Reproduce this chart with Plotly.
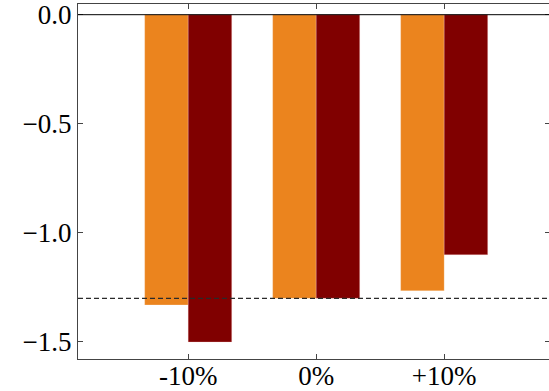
import plotly.graph_objects as go

# Data
categories = ["-10%", "0%", "+10%"]
series_a = [-1.33, -1.30, -1.265]  # orange bars
series_b = [-1.50, -1.30, -1.10]   # dark red bars
reference_level = -1.30            # dashed reference line
y_ticks = [0.0, -0.5, -1.0, -1.5]
y_tick_text = ["0.0", "\u22120.5", "\u22121.0", "\u22121.5"]

ORANGE = "#EB841E"
DARKRED = "#800000"
FONT = "Liberation Serif, DejaVu Serif, serif"

x = list(range(len(categories)))
X_RANGE = [-0.861, 2.819]
Y_RANGE = [-1.578, 0.049]

fig = go.Figure()
fig.add_trace(go.Bar(x=x, y=series_a, marker=dict(color=ORANGE, line=dict(color="rgba(255,255,255,0.35)", width=0.6)), showlegend=False))
fig.add_trace(go.Bar(x=x, y=series_b, marker=dict(color=DARKRED, line=dict(color="rgba(255,200,200,0.45)", width=0.6)), showlegend=False))

# zero line and reference line
fig.add_hline(y=0, line=dict(color="black", width=1))
fig.add_hline(y=reference_level, line=dict(color="#2a2a2a", width=1.2, dash="5px,3px"))

fig.update_layout(
    width=549, height=391,
    margin=dict(l=78, r=0, t=4, b=32),
    plot_bgcolor="white", paper_bgcolor="white",
    barmode="group", bargap=0.32, bargroupgap=0,
    font=dict(family=FONT, size=27, color="black"),
    xaxis=dict(
        range=X_RANGE, tickmode="array", tickvals=x, ticktext=categories,
        ticks="inside", ticklen=5, tickcolor="#444", showline=True, linecolor="#444",
        linewidth=1, mirror="ticks", showgrid=False, zeroline=False, automargin=False,
        ticklabeloverflow="allow", ticklabelstandoff=-7,
        tickfont=dict(family=FONT, size=27),
    ),
    yaxis=dict(
        range=Y_RANGE, tickmode="array", tickvals=y_ticks, ticktext=y_tick_text,
        ticks="inside", ticklen=5, tickcolor="#444", showline=True, linecolor="#444",
        linewidth=1, showgrid=False, zeroline=False, automargin=False,
        ticklabeloverflow="allow", tickfont=dict(family=FONT, size=27),
    ),
    yaxis2=dict(
        overlaying="y", side="right", range=Y_RANGE, tickmode="array",
        tickvals=y_ticks, showticklabels=False, ticks="inside", ticklen=4,
        tickcolor="#444", showline=False, showgrid=False, zeroline=False, automargin=False,
    ),
)

# invisible trace to activate the right-hand tick axis
fig.add_trace(go.Scatter(x=[None], y=[None], yaxis="y2", showlegend=False, hoverinfo="skip"))

fig.write_html("out.html")
